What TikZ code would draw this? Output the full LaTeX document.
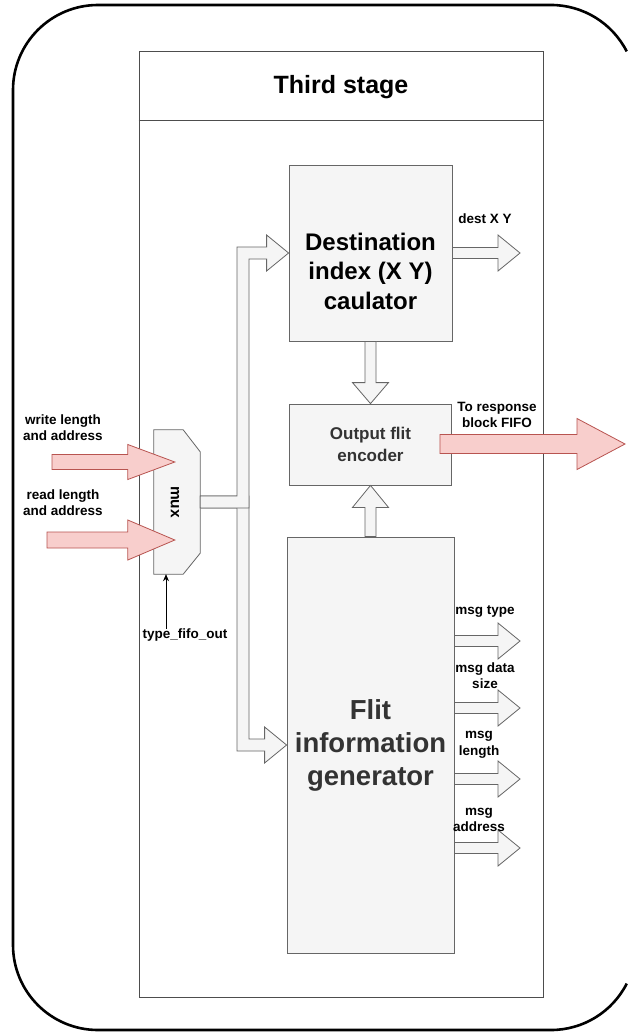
\documentclass[tikz,border=0pt]{standalone}
\usepackage{fontspec}
\setmainfont{Liberation Sans}
\usetikzlibrary{calc,arrows.meta}

\definecolor{boxfill}{HTML}{F5F5F5}
\definecolor{boxline}{HTML}{666666}
\definecolor{redfill}{HTML}{F8CECC}
\definecolor{redline}{HTML}{B85450}
\definecolor{darktext}{HTML}{333333}
\definecolor{frameline}{HTML}{4D4D4D}

% Block arrow from #2 to tip #3: half shaft width #4, half head width #5, head length #6
\newcommand\flexarrow[6][]{%
  \path (#2) coordinate (fa-s) (#3) coordinate (fa-t);
  \path ($(fa-t)!#6!(fa-s)$) coordinate (fa-b);
  \draw[#1] ($(fa-s)!#4!90:(fa-t)$) -- ($(fa-b)!#4!90:(fa-t)$) -- ($(fa-b)!#5!90:(fa-t)$)
    -- (fa-t) -- ($(fa-b)!#5!-90:(fa-t)$) -- ($(fa-b)!#4!-90:(fa-t)$)
    -- ($(fa-s)!#4!-90:(fa-t)$) -- cycle;}

\begin{document}
\begin{tikzpicture}[x=1pt,y=-1pt,
  box/.style={draw=boxline, fill=boxfill, line width=0.8pt, inner sep=0pt},
  flexg/.style={draw=boxline, fill=boxfill, line width=0.8pt, line join=miter},
  flexr/.style={draw=redline, fill=redfill, line width=0.8pt, line join=miter},
  lbl/.style={font=\bfseries\fontsize{13.5}{16.5}\selectfont, align=center, inner sep=0pt, text=black}]
\useasboundingbox (0,0) rectangle (628,1033);
\fill[white] (0,0) rectangle (628,1033);

% outer frame: its right side lies past the page edge, so only the corner arcs show there
\draw[line width=2.6pt] (626.7,51.4) arc[start angle=27, end angle=90, radius=85pt]
  -- (98,5) arc[start angle=90, end angle=180, radius=85pt]
  -- (13,945) arc[start angle=180, end angle=270, radius=85pt]
  -- (551,1030) arc[start angle=270, end angle=333, radius=85pt];

% stage container with header
\node[draw=frameline, line width=1pt, fill=white, minimum width=404, minimum height=945, inner sep=0pt] (stage) at (341,524.5) {};
\coordinate (hdr) at (341,120);
\draw[frameline, line width=1pt] (stage.west |- hdr) -- (stage.east |- hdr);
\node[font=\bfseries\fontsize{25}{30}\selectfont] (title) at (341,87) {Third stage};

% main blocks
\node[box, minimum width=163, minimum height=176] (dest) at (370.5,253) {};
\node[font=\bfseries\fontsize{24}{29.5}\selectfont, align=center, text=black] (desttxt) at ($(dest.center)+(0,18)$) {Destination\\index (X Y)\\caulator};
\node[box, minimum width=162, minimum height=81, font=\bfseries\fontsize{17}{22}\selectfont, align=center, text=darktext] (out) at (370.5,444.5) {Output flit\\encoder};
\node[box, minimum width=167, minimum height=416, font=\bfseries\fontsize{27.5}{33}\selectfont, align=center, text=darktext] (flit) at (370.5,745) {Flit\\information\\generator};

% multiplexer
\node[minimum width=46, minimum height=144, inner sep=0pt] (mux) at (177,502) {};
\draw[box] (mux.north west) -- ($(mux.north east)+(-17,0)$) -- ($(mux.north east)+(0,22)$)
  -- ($(mux.south east)+(0,-21)$) -- ($(mux.south east)+(-17,0)$) -- (mux.south west) -- cycle;
\node[lbl, font=\bfseries\fontsize{15.5}{18}\selectfont, rotate=-90] (muxtxt) at ($(mux.center)+(-2,0)$) {mux};

% buses from the multiplexer
\coordinate (busx) at (243,0);
\draw[flexg] let \p1=(mux.east), \p2=(flit.west), \p3=(busx) in
  (\x1,\y1+6pt) -- (\x3+6pt,\y1+6pt) -- (\x3+6pt,\y2+6pt) -- (\x2-22pt,\y2+6pt)
  -- (\x2-22pt,\y2+18pt) -- (\x2,\y2) -- (\x2-22pt,\y2-18pt) -- (\x2-22pt,\y2-6pt)
  -- (\x3-6pt,\y2-6pt) -- (\x3-6pt,\y1-6pt) -- (\x1,\y1-6pt) -- cycle;
\draw[flexg] let \p1=(mux.east), \p2=(dest.west), \p3=(busx) in
  (\x1,\y1+6pt) -- (\x3-6pt,\y1+6pt) -- (\x3-6pt,\y2+6pt) -- (\x2-22pt,\y2+6pt)
  -- (\x2-22pt,\y2+18pt) -- (\x2,\y2) -- (\x2-22pt,\y2-18pt) -- (\x2-22pt,\y2-6pt)
  -- (\x3+6pt,\y2-6pt) -- (\x3+6pt,\y1-6pt) -- (\x1,\y1-6pt) -- cycle;

% inputs
\coordinate (win) at (52,462);
\coordinate (wtip) at ($(mux.west)+(21,-40)$);
\coordinate (rin) at (47,540);
\coordinate (rtip) at ($(mux.west)+(21,38)$);
\flexarrow[flexr]{win}{wtip}{7.5pt}{17.5pt}{47pt}
\flexarrow[flexr]{rin}{rtip}{8pt}{20pt}{47pt}
\node[lbl] (wlbl) at (63,427.5) {write length\\and address};
\node[lbl] (rlbl) at (63,502.5) {read length\\and address};

% select line
\node[lbl] (tfo) at (185,635) {type\_fifo\_out};
\coordinate (sel) at ($(mux.south)+(-11,0)$);
\draw[-{Stealth[length=7pt,width=6pt]}, line width=0.8pt] (tfo.north -| sel) -- (sel);

% internal transfers
\flexarrow[flexg]{dest.south}{out.north}{5.5pt}{18pt}{21pt}
\flexarrow[flexg]{flit.north}{out.south}{5.5pt}{18pt}{22pt}

% outputs
\coordinate (rx) at (520,0);
\flexarrow[flexg]{dest.east}{dest.east -| rx}{5.5pt}{18pt}{22pt}
\node[lbl] (dxy) at (485,219) {dest X Y};

\coordinate (resp) at (625,444);
\flexarrow[flexr]{$(out.east |- resp)+(-12,0)$}{resp}{9.5pt}{25.5pt}{48pt}
\node[lbl] (rlabel) at (497,415) {To response\\block FIFO};

\coordinate (m1) at (520,641);
\coordinate (m2) at (520,708);
\coordinate (m3) at (520,779);
\coordinate (m4) at (520,848);
\flexarrow[flexg]{flit.east |- m1}{m1}{5.5pt}{18pt}{22pt}
\flexarrow[flexg]{flit.east |- m2}{m2}{5.5pt}{18pt}{22pt}
\flexarrow[flexg]{flit.east |- m3}{m3}{5.5pt}{18pt}{22pt}
\flexarrow[flexg]{flit.east |- m4}{m4}{5.5pt}{18pt}{22pt}
\node[lbl] (l1) at (485,612) {msg type};
\node[lbl] (l2) at (485,675.5) {msg data\\size};
\node[lbl] (l3) at (479,745) {msg\\length};
\node[lbl] (l4) at (479,820) {msg\\address};
\end{tikzpicture}
\end{document}
